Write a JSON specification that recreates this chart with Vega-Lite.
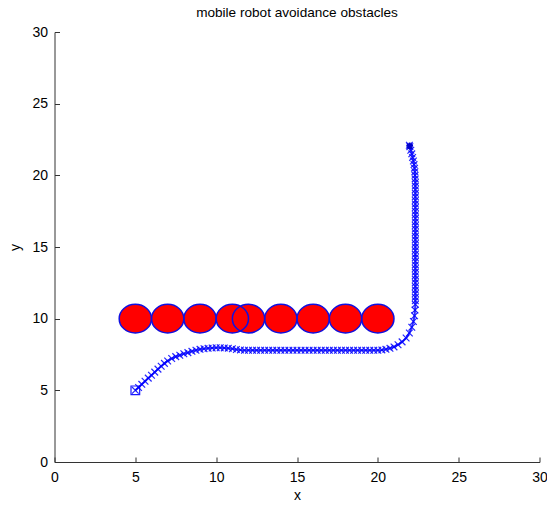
{
  "$schema": "https://vega.github.io/schema/vega-lite/v6.json",
  "width": 485,
  "height": 430,
  "autosize": "none",
  "padding": {"left": 54.5, "top": 32, "right": 7.5, "bottom": 44},
  "background": "white",
  "config": {
    "view": {"stroke": null},
    "font": "Liberation Sans",
    "axis": {"grid": false, "domainColor": "#333333", "tickColor": "#333333", "labelColor": "#000000", "titleColor": "#000000", "labelFont": "Liberation Sans", "titleFont": "Liberation Sans", "labelFontSize": 14, "titleFontSize": 14, "titleFontWeight": "normal", "tickSize": -5, "labelFlush": false, "labelOverlap": false}
  },
  "title": {"text": "mobile robot avoidance obstacles", "fontSize": 13.6, "fontWeight": "normal", "font": "Liberation Sans", "color": "#000000", "anchor": "middle", "offset": 5},
  "datasets": {
    "obstacles": [
      {"x": 5, "y": 10}, {"x": 7, "y": 10}, {"x": 9, "y": 10}, {"x": 11, "y": 10}, {"x": 12, "y": 10},
      {"x": 14, "y": 10}, {"x": 16, "y": 10}, {"x": 18, "y": 10}, {"x": 20, "y": 10}
    ],
    "path": [
      {"x": 5.0, "y": 5.0}, {"x": 5.2, "y": 5.2}, {"x": 5.4, "y": 5.42}, {"x": 5.6, "y": 5.63}, {"x": 5.8, "y": 5.85},
      {"x": 6.0, "y": 6.05}, {"x": 6.2, "y": 6.27}, {"x": 6.4, "y": 6.48}, {"x": 6.6, "y": 6.68}, {"x": 6.8, "y": 6.88},
      {"x": 7.0, "y": 7.05}, {"x": 7.25, "y": 7.22}, {"x": 7.5, "y": 7.35}, {"x": 7.75, "y": 7.45}, {"x": 8.0, "y": 7.55},
      {"x": 8.25, "y": 7.63}, {"x": 8.5, "y": 7.72}, {"x": 8.75, "y": 7.8}, {"x": 9.0, "y": 7.86}, {"x": 9.25, "y": 7.9},
      {"x": 9.5, "y": 7.93}, {"x": 9.75, "y": 7.95}, {"x": 10.0, "y": 7.97}, {"x": 10.25, "y": 7.97}, {"x": 10.5, "y": 7.96},
      {"x": 10.75, "y": 7.94}, {"x": 11.0, "y": 7.9}, {"x": 11.25, "y": 7.85}, {"x": 11.5, "y": 7.82}, {"x": 11.75, "y": 7.8},
      {"x": 12.0, "y": 7.8}, {"x": 12.25, "y": 7.8}, {"x": 12.5, "y": 7.8}, {"x": 12.75, "y": 7.8}, {"x": 13.0, "y": 7.8},
      {"x": 13.25, "y": 7.8}, {"x": 13.5, "y": 7.8}, {"x": 13.75, "y": 7.8}, {"x": 14.0, "y": 7.8}, {"x": 14.25, "y": 7.8},
      {"x": 14.5, "y": 7.8}, {"x": 14.75, "y": 7.8}, {"x": 15.0, "y": 7.8}, {"x": 15.25, "y": 7.8}, {"x": 15.5, "y": 7.8},
      {"x": 15.75, "y": 7.8}, {"x": 16.0, "y": 7.8}, {"x": 16.25, "y": 7.8}, {"x": 16.5, "y": 7.8}, {"x": 16.75, "y": 7.8},
      {"x": 17.0, "y": 7.8}, {"x": 17.25, "y": 7.8}, {"x": 17.5, "y": 7.8}, {"x": 17.75, "y": 7.8}, {"x": 18.0, "y": 7.8},
      {"x": 18.25, "y": 7.8}, {"x": 18.5, "y": 7.8}, {"x": 18.75, "y": 7.8}, {"x": 19.0, "y": 7.8}, {"x": 19.25, "y": 7.8},
      {"x": 19.5, "y": 7.8}, {"x": 19.75, "y": 7.8}, {"x": 20.0, "y": 7.8}, {"x": 20.25, "y": 7.82}, {"x": 20.5, "y": 7.86},
      {"x": 20.75, "y": 7.93}, {"x": 21.0, "y": 8.03}, {"x": 21.25, "y": 8.18}, {"x": 21.5, "y": 8.38}, {"x": 21.75, "y": 8.65},
      {"x": 21.95, "y": 9.0}, {"x": 22.1, "y": 9.4}, {"x": 22.2, "y": 9.8}, {"x": 22.27, "y": 10.2}, {"x": 22.3, "y": 10.6},
      {"x": 22.32, "y": 11.0}, {"x": 22.32, "y": 11.25}, {"x": 22.32, "y": 11.5}, {"x": 22.32, "y": 11.75}, {"x": 22.32, "y": 12.0},
      {"x": 22.32, "y": 12.25}, {"x": 22.32, "y": 12.5}, {"x": 22.32, "y": 12.75}, {"x": 22.32, "y": 13.0}, {"x": 22.32, "y": 13.25},
      {"x": 22.32, "y": 13.5}, {"x": 22.32, "y": 13.75}, {"x": 22.32, "y": 14.0}, {"x": 22.32, "y": 14.25}, {"x": 22.32, "y": 14.5},
      {"x": 22.32, "y": 14.75}, {"x": 22.32, "y": 15.0}, {"x": 22.32, "y": 15.25}, {"x": 22.32, "y": 15.5}, {"x": 22.32, "y": 15.75},
      {"x": 22.32, "y": 16.0}, {"x": 22.32, "y": 16.25}, {"x": 22.32, "y": 16.5}, {"x": 22.32, "y": 16.75}, {"x": 22.32, "y": 17.0},
      {"x": 22.32, "y": 17.25}, {"x": 22.32, "y": 17.5}, {"x": 22.32, "y": 17.75}, {"x": 22.32, "y": 18.0}, {"x": 22.32, "y": 18.25},
      {"x": 22.32, "y": 18.5}, {"x": 22.32, "y": 18.75}, {"x": 22.32, "y": 19.0}, {"x": 22.32, "y": 19.25}, {"x": 22.32, "y": 19.5},
      {"x": 22.31, "y": 19.75}, {"x": 22.3, "y": 20.0}, {"x": 22.29, "y": 20.25}, {"x": 22.27, "y": 20.5}, {"x": 22.24, "y": 20.75},
      {"x": 22.2, "y": 21.0}, {"x": 22.15, "y": 21.25}, {"x": 22.1, "y": 21.5}, {"x": 22.04, "y": 21.75}, {"x": 21.98, "y": 22.0},
      {"x": 21.95, "y": 22.1}
    ],
    "start": [{"x": 5, "y": 5}],
    "goal": [{"x": 21.97, "y": 22.05}]
  },
  "layer": [
    {
      "data": {"name": "obstacles"},
      "mark": {"type": "point", "shape": "M-1,0A1,0.887,0,1,1,1,0A1,0.887,0,1,1,-1,0Z", "filled": true, "fill": "#FF0000", "stroke": null, "opacity": 1, "size": 1043},
      "encoding": {
        "x": {"field": "x", "type": "quantitative", "scale": {"domain": [0, 30], "nice": false, "zero": false}, "axis": {"title": "x", "values": [0, 5, 10, 15, 20, 25, 30], "labelPadding": 13, "titlePadding": 4}},
        "y": {"field": "y", "type": "quantitative", "scale": {"domain": [0, 30], "nice": false, "zero": false}, "axis": {"title": "y", "values": [0, 5, 10, 15, 20, 25, 30], "labelPadding": 12, "titlePadding": 9}}
      }
    },
    {
      "data": {"name": "obstacles"},
      "mark": {"type": "point", "shape": "M-1,0A1,0.887,0,1,1,1,0A1,0.887,0,1,1,-1,0Z", "filled": false, "stroke": "#1010E0", "strokeWidth": 1.5, "opacity": 1, "size": 1043},
      "encoding": {
        "x": {"field": "x", "type": "quantitative"},
        "y": {"field": "y", "type": "quantitative"}
      }
    },
    {
      "data": {"name": "path"},
      "mark": {"type": "line", "color": "#0000FF", "strokeWidth": 2, "opacity": 0.8},
      "encoding": {
        "x": {"field": "x", "type": "quantitative"},
        "y": {"field": "y", "type": "quantitative"},
        "order": {"value": null}
      }
    },
    {
      "data": {"name": "path"},
      "mark": {"type": "point", "shape": "M-1,-1L1,1M-1,1L1,-1", "filled": false, "stroke": "#0000FF", "strokeWidth": 1.2, "opacity": 0.85, "size": 45},
      "encoding": {
        "x": {"field": "x", "type": "quantitative"},
        "y": {"field": "y", "type": "quantitative"}
      }
    },
    {
      "data": {"name": "start"},
      "mark": {"type": "point", "shape": "square", "filled": false, "stroke": "#0000FF", "strokeWidth": 1.2, "opacity": 0.9, "size": 75},
      "encoding": {
        "x": {"field": "x", "type": "quantitative"},
        "y": {"field": "y", "type": "quantitative"}
      }
    },
    {
      "data": {"name": "goal"},
      "mark": {"type": "point", "shape": "M-1,0L1,0M0,-1L0,1M-0.7,-0.7L0.7,0.7M-0.7,0.7L0.7,-0.7", "filled": false, "stroke": "#0000CC", "strokeWidth": 1.8, "opacity": 1, "size": 45},
      "encoding": {
        "x": {"field": "x", "type": "quantitative"},
        "y": {"field": "y", "type": "quantitative"}
      }
    }
  ]
}
